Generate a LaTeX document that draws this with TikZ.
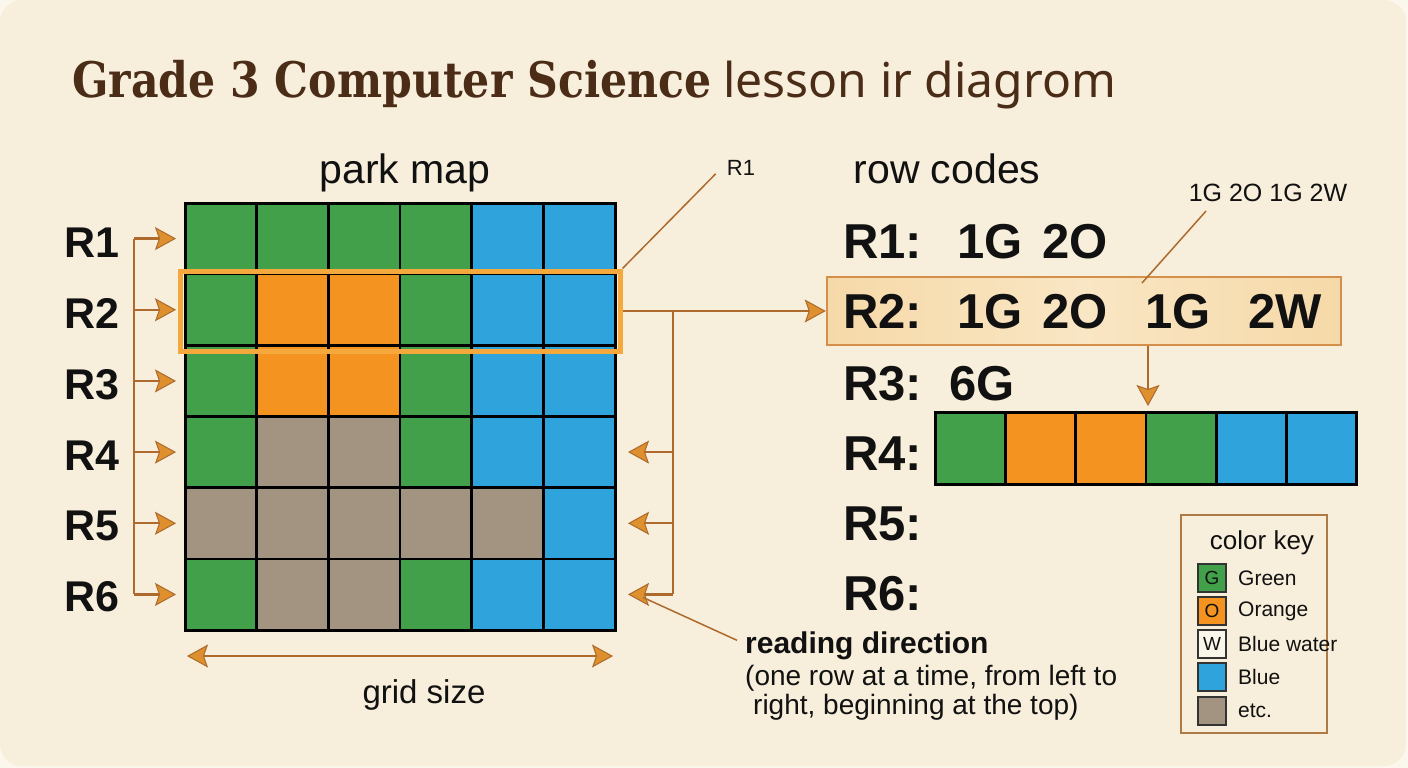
\documentclass[tikz,border=0pt]{standalone}
\usepackage{fontspec}
\setmainfont{Liberation Sans}
\newfontfamily\titlefont[FakeStretch=0.87]{DejaVu Serif}
\newfontfamily\titlelight{Noto Sans}
\usetikzlibrary{arrows.meta}
\definecolor{outer}{HTML}{FBF7EC}
\definecolor{bg}{HTML}{F7EEDB}
\definecolor{cG}{HTML}{43A04A}
\definecolor{cO}{HTML}{F4931F}
\definecolor{cB}{HTML}{2FA3DC}
\definecolor{cT}{HTML}{A39481}
\definecolor{cW}{HTML}{FBF6EA}
\definecolor{conncol}{HTML}{AD6A2C}
\definecolor{tipcol}{HTML}{DE902F}
\definecolor{hl}{HTML}{F5A93C}
\definecolor{r2fill}{HTML}{F6D9A8}
\definecolor{r2mid}{HTML}{F9E6C4}
\definecolor{r2draw}{HTML}{D4904A}
\definecolor{titlecol}{HTML}{4A2C17}
\definecolor{keydraw}{HTML}{B07A45}
\definecolor{txt}{HTML}{111111}
\tikzset{
  cell/.style={draw=black, line width=2.6pt, minimum width=71.67pt, minimum height=71.17pt, inner sep=0pt, outer sep=0pt},
  scell/.style={draw=black, line width=2.6pt, minimum width=70.33pt, minimum height=72pt, inner sep=0pt, outer sep=0pt},
  conn/.style={draw=conncol, line width=2.4pt},
  thinconn/.style={draw=conncol, line width=1.5pt},
  tipo/.tip={Stealth[length=21pt, width=23pt, inset=4pt, fill=tipcol, line width=1pt]},
  bigrow/.style={font=\fontsize{43}{43}\selectfont\bfseries, text=txt, inner sep=0pt, anchor=base},
  code/.style={font=\fontsize{49}{49}\selectfont\bfseries, text=txt, inner sep=0pt, anchor=base west},
  tok/.style={font=\fontsize{49}{49}\selectfont\bfseries, text=txt, inner sep=0pt, anchor=base},
  keysw/.style={draw=black!80, line width=1.2pt, minimum width=28pt, minimum height=28pt, inner sep=0pt, font=\fontsize{19}{19}\selectfont, text=txt},
  keytxt/.style={font=\fontsize{21}{21}\selectfont, text=txt, inner sep=0pt, anchor=west},
  head/.style={font=\fontsize{41}{41}\selectfont, text=txt, inner sep=0pt, anchor=base},
}
\begin{document}
\begin{tikzpicture}[x=1pt, y=-1pt]
\useasboundingbox (0,0) rectangle (1408,768);
\fill[outer] (0,0) rectangle (1408,768);
\fill[bg, rounded corners=22pt] (0,0) rectangle (1406,766);

% title
\node[anchor=base west, inner sep=0pt, text=titlecol] (title) at (72,97)
  {{\titlefont\bfseries\fontsize{49}{49}\selectfont Grade 3 Computer Science}\hspace{12pt}{\titlelight\fontsize{48}{48}\selectfont lesson ir diagrom}};

% headings
\node[head] (parkmap) at (405,183) {park map};
\node[head] (rowcodes) at (947,183) {row codes};

% grid
\foreach \row [count=\r] in {{G,G,G,G,B,B},{G,O,O,G,B,B},{G,O,O,G,B,B},{G,T,T,G,B,B},{T,T,T,T,T,B},{G,T,T,G,B,B}} {
  \foreach \col [count=\c] in \row {
    \node[cell, fill=c\col] (g-\r-\c) at ({185+(\c-0.5)*71.67},{203+(\r-0.5)*71.17}) {};
  }
}
\draw[black, line width=3pt] (g-1-1.north west) rectangle (g-6-6.south east);

% highlight around R2
\node[draw=hl, line width=5pt, minimum width=440pt, minimum height=80pt, inner sep=0pt] (hlbox) at (400,311) {};

% left labels and arrows
\foreach \r/\yb in {1/257,2/328,3/399,4/470,5/540,6/611} {
  \node[bigrow] (L\r) at (92,\yb) {R\r};
  \coordinate (sp-\r) at (134,{203+(\r-0.5)*71.17});
  \draw[conn, -tipo] (sp-\r) -- ([xshift=-9pt]g-\r-1.west);
}
\draw[conn] (sp-1) -- (sp-6);

% row codes
\node[draw=r2draw, line width=2.5pt, left color=r2fill, right color=r2fill, middle color=r2mid, minimum width=514pt, minimum height=68pt, inner sep=0pt] (r2box) at (1084,311) {};
\node[code] (c1l) at (843,258) {R1:};
\node[tok] (c1a) at (990,258) {1G};
\node[tok] (c1b) at (1075,258) {2O};
\node[code] (c2l) at (843,328) {R2:};
\node[tok] (c2a) at (990,328) {1G};
\node[tok] (c2b) at (1075,328) {2O};
\node[tok] (c2c) at (1178,328) {1G};
\node[tok] (c2d) at (1285,328) {2W};
\node[code] (c3l) at (843,400) {R3:};
\node[tok] (c3a) at (982,400) {6G};
\node[code] (c4l) at (843,470) {R4:};
\node[code] (c5l) at (843,540) {R5:};
\node[code] (c6l) at (843,610) {R6:};

% R4 strip
\foreach \col [count=\c] in {G,O,O,G,B,B} {
  \node[scell, fill=c\col] (s-\c) at ({935+(\c-0.5)*70.33},448) {};
}
\draw[black, line width=3pt] (s-1.north west) rectangle (s-6.south east);

% connector highlight -> R2 code
\draw[conn, -tipo] (hlbox.east) -- (r2box.west);
\coordinate (rs-top) at (673,311);
\coordinate (rs-bot) at (673,594.4);
\draw[conn] (rs-top) -- (rs-bot);
\foreach \r in {4,5,6} {
  \draw[conn, -tipo] (g-\r-6.east -| rs-top) -- ([xshift=13pt]g-\r-6.east);
}

% R2 code -> strip
\coordinate (dn) at (1148,345);
\draw[conn, -tipo] (r2box.south -| dn) -- ([yshift=6pt]s-4.north east -| dn);

% callouts
\node[font=\fontsize{22}{22}\selectfont, text=txt, inner sep=2pt] (callR1) at (741,168) {R1};
\draw[thinconn] (hlbox.north east) -- ([xshift=-9pt,yshift=4pt]callR1.south west);
\node[font=\fontsize{25}{25}\selectfont, text=txt, inner sep=2pt] (callcode) at (1268,193) {1G 2O 1G 2W};
\coordinate (cc-end) at (1142,283);
\draw[thinconn] ([xshift=-62pt,yshift=-7pt]callcode.south) -- (cc-end);

% grid size
\draw[conn, tipo-tipo] ([xshift=2pt,yshift=-26pt]g-6-1.south west) -- ([xshift=-2pt,yshift=-26pt]g-6-6.south east);
\node[font=\fontsize{33}{33}\selectfont, text=txt, inner sep=0pt, anchor=base] (gridsize) at (424,703) {grid size};

% reading direction
\node[font=\fontsize{30}{30}\selectfont\bfseries, text=txt, inner sep=0pt, anchor=base west] (readdir) at (745,653) {reading direction};
\node[font=\fontsize{28}{28}\selectfont, text=txt, inner sep=0pt, anchor=base west] (read2) at (745,685) {(one row at a time, from left to};
\node[font=\fontsize{28}{28}\selectfont, text=txt, inner sep=0pt, anchor=base west] (read3) at (753,714) {right, beginning at the top)};
\draw[thinconn] ([xshift=-8pt,yshift=5pt]readdir.west) -- ([xshift=28pt,yshift=-3pt]g-6-6.east);

% color key
\node[draw=keydraw, line width=1.6pt, minimum width=146pt, minimum height=218pt, inner sep=0pt] (key) at (1254,624) {};
\node[font=\fontsize{26}{26}\selectfont, text=txt, inner sep=0pt, anchor=base] (keyt) at (1262,549) {color key};
\node[keysw, fill=cG] (k1) at (1212,578) {G};
\node[keysw, fill=cO] (k2) at (1212,611) {O};
\node[keysw, fill=cW] (k3) at (1212,644) {W};
\node[keysw, fill=cB] (k4) at (1212,677) {};
\node[keysw, fill=cT] (k5) at (1212,711) {};
\node[keytxt] (kt1) at (1238,578) {Green};
\node[keytxt] (kt2) at (1238,611) {Orange};
\node[keytxt] (kt3) at (1238,644) {Blue water};
\node[keytxt] (kt4) at (1238,677) {Blue};
\node[keytxt] (kt5) at (1238,711) {etc.};
\end{tikzpicture}
\end{document}
